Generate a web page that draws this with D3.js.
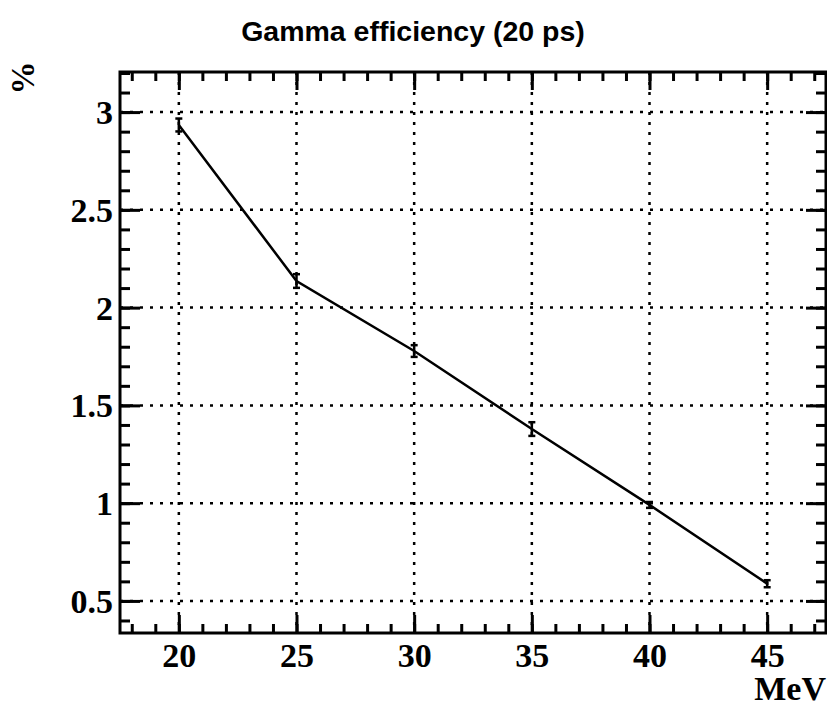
<!DOCTYPE html>
<html>
<head>
<meta charset="utf-8">
<script src="https://cdn.jsdelivr.net/npm/d3@7"></script>
<style>
  html, body { margin: 0; padding: 0; background: #fff; }
  svg { display: block; }
  .serif { font-family: "Liberation Serif", "Times New Roman", Times, serif; font-weight: bold; }
</style>
</head>
<body>
<svg id="chart" width="827" height="707"></svg>
<script>
// Energies (MeV) and efficiencies (%) with their statistical errors
const energies = [20, 25, 30, 35, 40, 45];
const efficiency = [2.934, 2.136, 1.778, 1.379, 0.991, 0.588];
const errors = [0.033, 0.035, 0.030, 0.035, 0.015, 0.018];

const xTicks = [20, 25, 30, 35, 40, 45];
const yTicks = [0.5, 1, 1.5, 2, 2.5, 3];
const xDomain = [17.5, 47.5];
const yDomain = [0.336, 3.205];

const titleText = "Gamma efficiency (20 ps)";
const xTitle = "MeV";
const yTitle = "%";

const frame = { left: 120, right: 826, top: 72, bottom: 633 };
const svg = d3.select("#chart");

const x = d3.scaleLinear().domain(xDomain).range([frame.left, frame.right]);
const y = d3.scaleLinear().domain(yDomain).range([frame.bottom, frame.top]);

const xMinor = d3.range(18, 48, 1);
const yMinor = d3.range(0.4, 3.21, 0.1).map(v => +v.toFixed(1));

// dotted grid at the major ticks
const grid = svg.append("g")
  .attr("stroke", "#000").attr("stroke-width", 2.5).attr("stroke-dasharray", "3,7");
grid.selectAll("line.gx").data(xTicks).join("line")
  .attr("x1", d => x(d)).attr("x2", d => x(d))
  .attr("y1", frame.top).attr("y2", frame.bottom);
grid.selectAll("line.gy").data(yTicks).join("line")
  .attr("x1", frame.left).attr("x2", frame.right)
  .attr("y1", d => y(d)).attr("y2", d => y(d));

// axis helper: ticks drawn inward, heavy lines
function styleAxis(g) {
  g.select(".domain").remove();
  g.selectAll(".tick line").attr("stroke", "#000").attr("stroke-width", 3);
}

// bottom axis with labels
svg.append("g").attr("transform", `translate(0,${frame.bottom})`)
  .call(d3.axisBottom(x).tickValues(xMinor).tickSize(-9).tickFormat(""))
  .call(styleAxis);
svg.append("g").attr("transform", `translate(0,${frame.bottom})`)
  .call(d3.axisBottom(x).tickValues(xTicks).tickSize(-18).tickPadding(10).tickFormat(d3.format("d")))
  .call(styleAxis)
  .call(g => g.selectAll("text").attr("class", "serif").attr("font-size", 34)
    .attr("fill", "#000").attr("dy", "0.71em"));

// top axis ticks
svg.append("g").attr("transform", `translate(0,${frame.top})`)
  .call(d3.axisTop(x).tickValues(xMinor).tickSize(-9).tickFormat(""))
  .call(styleAxis);
svg.append("g").attr("transform", `translate(0,${frame.top})`)
  .call(d3.axisTop(x).tickValues(xTicks).tickSize(-18).tickFormat(""))
  .call(styleAxis);

// left axis with labels
svg.append("g").attr("transform", `translate(${frame.left},0)`)
  .call(d3.axisLeft(y).tickValues(yMinor).tickSize(-10).tickFormat(""))
  .call(styleAxis);
svg.append("g").attr("transform", `translate(${frame.left},0)`)
  .call(d3.axisLeft(y).tickValues(yTicks).tickSize(-20).tickPadding(7).tickFormat(d3.format("")))
  .call(styleAxis)
  .call(g => g.selectAll("text").attr("class", "serif").attr("font-size", 34)
    .attr("fill", "#000").attr("dy", "0.34em"));

// right axis ticks
svg.append("g").attr("transform", `translate(${frame.right},0)`)
  .call(d3.axisRight(y).tickValues(yMinor).tickSize(-10).tickFormat(""))
  .call(styleAxis);
svg.append("g").attr("transform", `translate(${frame.right},0)`)
  .call(d3.axisRight(y).tickValues(yTicks).tickSize(-20).tickFormat(""))
  .call(styleAxis);

// frame
svg.append("rect")
  .attr("x", frame.left).attr("y", frame.top)
  .attr("width", frame.right - frame.left).attr("height", frame.bottom - frame.top)
  .attr("fill", "none").attr("stroke", "#000").attr("stroke-width", 3);

// data line
const pts = energies.map((e, i) => ({ e, v: efficiency[i], err: errors[i] }));
svg.append("path").datum(pts)
  .attr("fill", "none").attr("stroke", "#000").attr("stroke-width", 2.5)
  .attr("d", d3.line().x(d => x(d.e)).y(d => y(d.v)));

// error bars
const eb = svg.append("g").attr("stroke", "#000").attr("stroke-width", 2.5);
eb.selectAll("line.v").data(pts).join("line")
  .attr("x1", d => x(d.e)).attr("x2", d => x(d.e))
  .attr("y1", d => y(d.v - d.err)).attr("y2", d => y(d.v + d.err));
eb.selectAll("line.t").data(pts).join("line")
  .attr("x1", d => x(d.e) - 3.5).attr("x2", d => x(d.e) + 3.5)
  .attr("y1", d => y(d.v + d.err)).attr("y2", d => y(d.v + d.err));
eb.selectAll("line.b").data(pts).join("line")
  .attr("x1", d => x(d.e) - 3.5).attr("x2", d => x(d.e) + 3.5)
  .attr("y1", d => y(d.v - d.err)).attr("y2", d => y(d.v - d.err));

// titles
svg.append("text")
  .attr("x", 413).attr("y", 41).attr("text-anchor", "middle")
  .attr("font-family", "'Liberation Sans', Arial, Helvetica, sans-serif")
  .attr("font-weight", "bold").attr("font-size", 28.5)
  .text(titleText);

svg.append("text").attr("class", "serif")
  .attr("x", 826).attr("y", 700).attr("text-anchor", "end")
  .attr("font-size", 34).text(xTitle);

svg.append("text").attr("class", "serif")
  .attr("transform", "translate(34,78) rotate(-90)")
  .attr("text-anchor", "middle")
  .attr("font-size", 33).text(yTitle);
</script>
</body>
</html>
